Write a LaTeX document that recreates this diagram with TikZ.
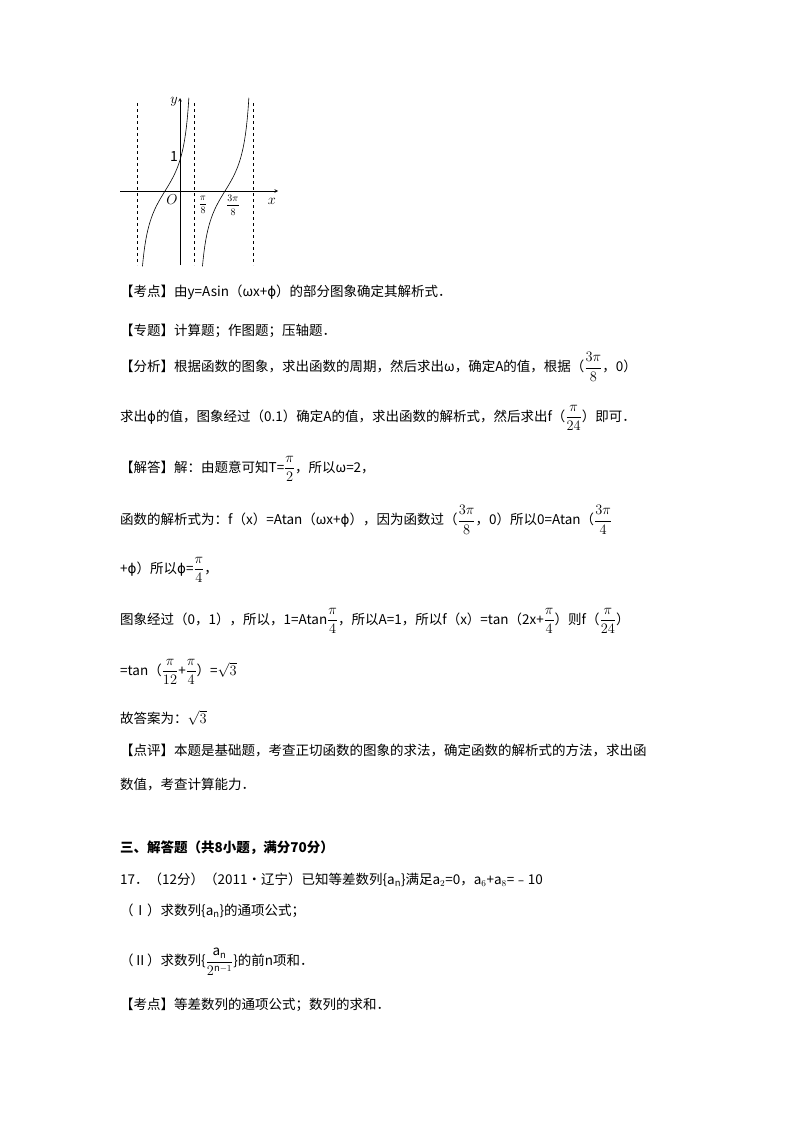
\documentclass[tikz,border=0pt]{standalone}
\usepackage{fontspec}
\setmainfont{Noto Sans CJK SC}
\newfontfamily\dvfont{DejaVu Sans}
\newcommand\ph{{\dvfont ϕ}}
\usepackage{amsmath}
\begin{document}
\begin{tikzpicture}[x=1pt,y=-1pt,
  ln/.style={anchor=west,inner sep=0pt,font=\fontsize{13.5}{14}\selectfont},
  lab/.style={inner sep=0pt,font=\fontsize{14}{14}\selectfont},
  asym/.style={dashed,line width=0.6pt},
  curve/.style={line width=0.6pt}]
\useasboundingbox (0,0) rectangle (800,1132);
% graph
\coordinate (xa) at (120,191); \coordinate (xb) at (278,191);
\coordinate (ya) at (180,265); \coordinate (yb) at (180,98);
\draw[-stealth,line width=0.6pt] (xa) -- (xb);
\draw[-stealth,line width=0.6pt] (ya) -- (yb);
\draw[asym] (137,103) -- (137,265);
\draw[asym] (194,103) -- (194,265);
\draw[asym] (253,103) -- (253,265);
\draw[curve,domain=-1.18:1.25,samples=60,variable=\t]
  plot ({180+(\t-0.785)/2*120/pi},{191-31*tan(\t r)});
\draw[curve,domain=-1.18:1.25,samples=60,variable=\t]
  plot ({240+(\t-0.785)/2*120/pi},{191-31*tan(\t r)});
\node[lab] (ly) at (174,102) {$y$};
\node[lab] (lx) at (272,201) {$x$};
\node[lab] (lo) at (172,200) {$O$};
\node[lab] (l1) at (174,157) {1};
\node[lab,font=\fontsize{10}{10}\selectfont] (lp8) at (203,205) {$\dfrac{\pi}{8}$};
\node[lab,font=\fontsize{10}{10}\selectfont] (l3p8) at (233,205) {$\dfrac{3\pi}{8}$};
% text
\node[ln] (t1) at (120,292) {【考点】由y=Asin（ωx+\ph）的部分图象确定其解析式．};
\node[ln] (t2) at (120,331) {【专题】计算题；作图题；压轴题．};
\node[ln] (t3) at (120,367) {【分析】根据函数的图象，求出函数的周期，然后求出ω，确定A的值，根据（$\dfrac{3\pi}{8}$，0）};
\node[ln] (t4) at (120,418) {求出\ph 的值，图象经过（0.1）确定A的值，求出函数的解析式，然后求出f（$\dfrac{\pi}{24}$）即可．};
\node[ln] (t5) at (120,469) {【解答】解：由题意可知T=$\dfrac{\pi}{2}$，所以ω=2，};
\node[ln] (t6) at (120,520) {函数的解析式为：f（x）=Atan（ωx+\ph），因为函数过（$\dfrac{3\pi}{8}$，0）所以0=Atan（$\dfrac{3\pi}{4}$};
\node[ln] (t7) at (120,570) {+\ph）所以\ph=$\dfrac{\pi}{4}$，};
\node[ln] (t8) at (120,621) {图象经过（0，1），所以，1=Atan$\dfrac{\pi}{4}$，所以A=1，所以f（x）=tan（2x+$\dfrac{\pi}{4}$）则f（$\dfrac{\pi}{24}$）};
\node[ln] (t9) at (120,672) {=tan（$\dfrac{\pi}{12}$+$\dfrac{\pi}{4}$）=$\sqrt{3}$};
\node[ln] (t10) at (120,718) {故答案为：$\sqrt{3}$};
\node[ln] (t11) at (120,750) {【点评】本题是基础题，考查正切函数的图象的求法，确定函数的解析式的方法，求出函};
\node[ln] (t12) at (120,785) {数值，考查计算能力．};
\node[ln,font=\fontsize{13.5}{14}\selectfont\bfseries] (t13) at (120,848) {三、解答题（共8小题，满分70分）};
\node[ln] (t14) at (120,880) {17．（12分）（2011•辽宁）已知等差数列\{a$_\mathrm{n}$\}满足a$_2$=0，a$_6$+a$_8$=﹣10};
\node[ln] (t15) at (120,911) {（Ⅰ）求数列\{a$_\mathrm{n}$\}的通项公式；};
\node[ln] (t16) at (120,962) {（Ⅱ）求数列\{$\dfrac{\mathrm{a}_\mathrm{n}}{2^{\mathrm{n}-1}}$\}的前n项和．};
\node[ln] (t17) at (120,1005) {【考点】等差数列的通项公式；数列的求和．};
\end{tikzpicture}
\end{document}
